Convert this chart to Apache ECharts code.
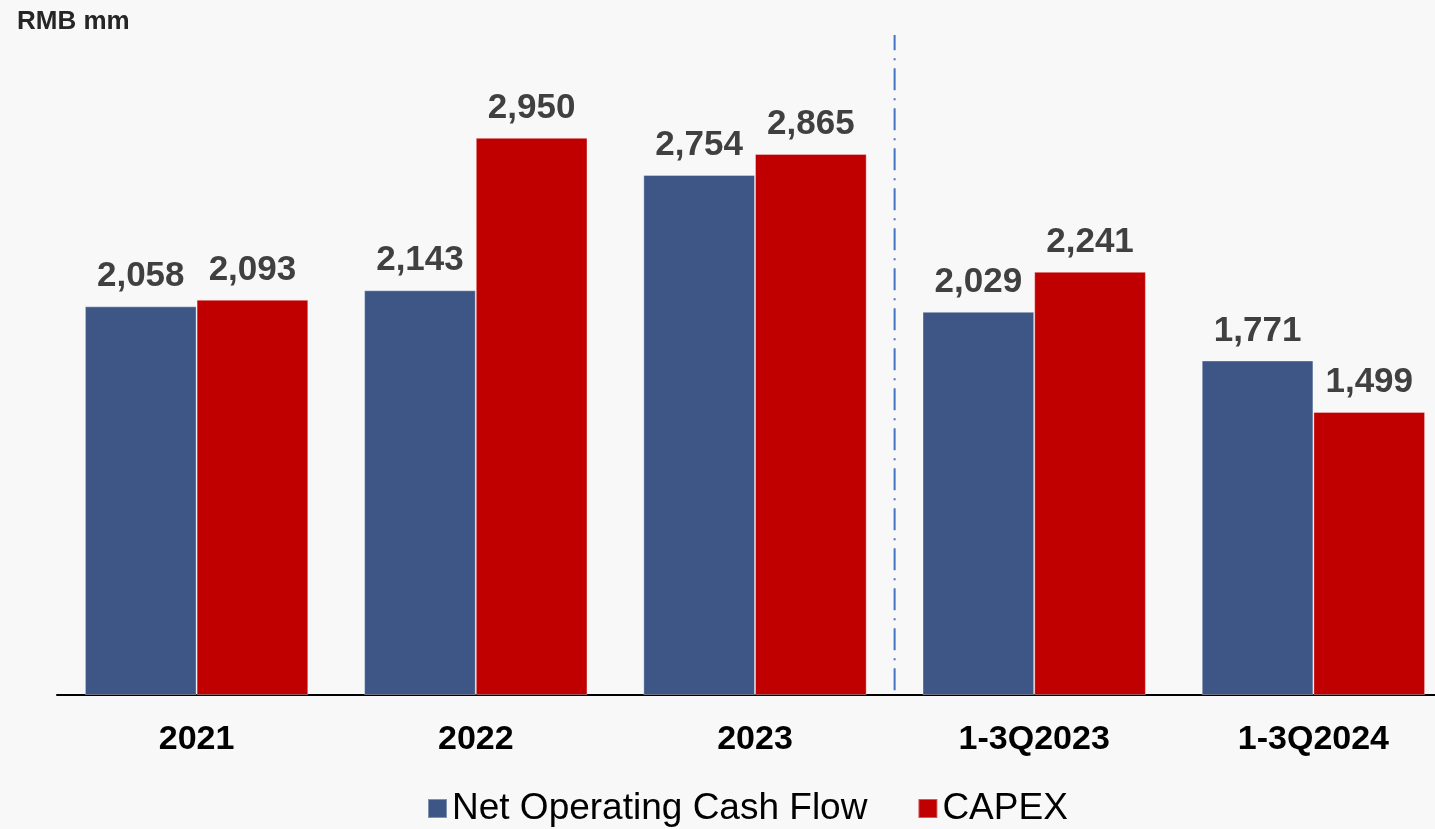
<!DOCTYPE html>
<html>
<head>
<meta charset="utf-8">
<script src="https://cdn.jsdelivr.net/npm/echarts@6/dist/echarts.min.js"></script>
<style>
  html, body { margin: 0; padding: 0; background: #f8f8f8; }
  #chart { width: 1435px; height: 829px; }
</style>
</head>
<body>
<div id="chart"></div>
<script>
// categories and values (RMB mm)
const categories = ['2021', '2022', '2023', '1-3Q2023', '1-3Q2024']
const netOpCashFlow = [2058, 2143, 2754, 2029, 1771]
const capex = [2093, 2950, 2865, 2241, 1499]
// divider between full years and year-to-date periods (value x-axis 0..5)
const dividerX = 3
const dividerY = [25, 3495]

const fontFamily = 'Arial, "Liberation Sans", sans-serif'
const labelStyle = {
  show: true,
  position: 'top',
  distance: 12,
  color: '#404040',
  fontSize: 35,
  fontWeight: 'bold',
  fontFamily,
  formatter: (p) => p.value.toLocaleString('en-US'),
}

const chart = echarts.init(document.getElementById('chart'))
chart.setOption({
  backgroundColor: '#f8f8f8',
  animation: false,
  title: {
    text: 'RMB mm',
    left: 12,
    top: 4,
    textStyle: { color: '#262626', fontSize: 26, fontWeight: 'bold', fontFamily },
  },
  legend: {
    left: 422,
    top: 785,
    itemWidth: 19,
    itemHeight: 19,
    itemGap: 50,
    icon: 'rect',
    textStyle: { color: '#000', fontSize: 37, fontFamily },
    data: ['Net Operating Cash Flow', 'CAPEX'],
  },
  grid: { left: 57, top: 34, right: -18, bottom: 134, outerBoundsMode: 'none' },
  xAxis: [
    {
      type: 'category',
      data: categories,
      axisLine: { lineStyle: { color: '#000', width: 2 } },
      axisTick: { show: false },
      axisLabel: { color: '#000', fontSize: 34, fontWeight: 'bold', fontFamily, margin: 28 },
    },
    { type: 'value', min: 0, max: 5, show: false },
  ],
  yAxis: {
    type: 'value',
    min: 0,
    max: 3500,
    show: false,
    splitLine: { show: false },
  },
  series: [
    {
      name: 'Net Operating Cash Flow',
      type: 'bar',
      data: netOpCashFlow,
      barGap: '0%',
      barCategoryGap: '20%',
      itemStyle: { color: '#3e5686', borderColor: 'rgba(255,255,255,0.35)', borderWidth: 1 },
      label: labelStyle,
    },
    {
      name: 'CAPEX',
      type: 'bar',
      data: capex,
      barGap: '0%',
      barCategoryGap: '20%',
      itemStyle: { color: '#c00000', borderColor: 'rgba(255,255,255,0.35)', borderWidth: 1 },
      label: labelStyle,
    },
    {
      name: 'divider',
      type: 'line',
      xAxisIndex: 1,
      data: dividerY.map(y => [dividerX, y]),
      symbol: 'none',
      silent: true,
      lineStyle: { color: '#4472c4', width: 2, type: [22, 8, 2, 8] },
    },
  ],
})
</script>
</body>
</html>
